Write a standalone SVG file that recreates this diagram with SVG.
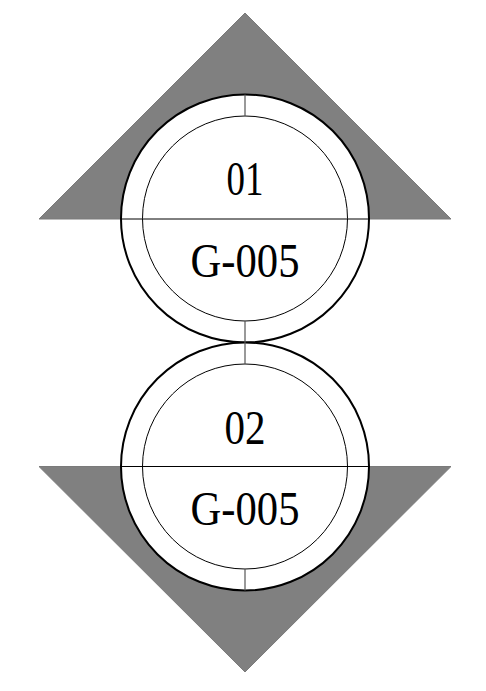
<svg xmlns="http://www.w3.org/2000/svg" width="486" height="691" viewBox="0 0 486 691">
<style>
.tri{fill:#808080;stroke:#7a7a7a;stroke-width:1}
.outer{fill:#fff;stroke:#000;stroke-width:2}
.inner{fill:none;stroke:#000;stroke-width:1}
.div{stroke:#000;stroke-width:1}
.tick{stroke:#555;stroke-width:1.2}
.t{font-family:"Liberation Serif","Times New Roman",serif;font-size:48px;fill:#000;text-anchor:middle}
</style>
<rect width="486" height="691" fill="#fff"/>
<g id="node1">
<polygon class="tri" points="245,13 451,219 39,219"/>
<circle class="outer" cx="245" cy="218.5" r="124"/>
<circle class="inner" cx="245" cy="218.5" r="102.5"/>
<line class="div" x1="121" y1="219" x2="369" y2="219"/>
<line class="tick" x1="245" y1="94.5" x2="245" y2="116"/>
<text class="t" x="245" y="195" textLength="37" lengthAdjust="spacingAndGlyphs">01</text>
<text class="t" x="245" y="277" textLength="109" lengthAdjust="spacingAndGlyphs">G-005</text>
</g>
<g id="node2">
<polygon class="tri" points="39,466.5 451,466.5 245,672"/>
<circle class="outer" cx="245" cy="466.5" r="124"/>
<circle class="inner" cx="245" cy="466.5" r="102.5"/>
<line class="div" x1="121" y1="466.5" x2="369" y2="466.5"/>
<line class="tick" x1="245" y1="569" x2="245" y2="590.5"/>
<text class="t" x="245" y="444" textLength="41" lengthAdjust="spacingAndGlyphs">02</text>
<text class="t" x="245" y="525" textLength="109" lengthAdjust="spacingAndGlyphs">G-005</text>
</g>
<g id="connectors">
<line class="tick" x1="245" y1="321" x2="245" y2="364"/>
</g>
</svg>
